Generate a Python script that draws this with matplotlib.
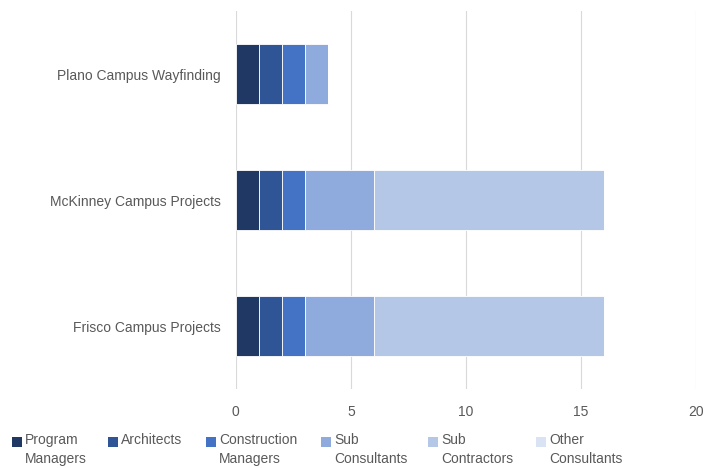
import numpy as np
import matplotlib.pyplot as plt
from matplotlib.patches import Rectangle

projects = ['Frisco Campus Projects', 'McKinney Campus Projects', 'Plano Campus Wayfinding']
roles = ['Program\nManagers', 'Architects', 'Construction\nManagers', 'Sub\nConsultants',
         'Sub\nContractors', 'Other\nConsultants']
program_managers = [1, 1, 1]
architects = [1, 1, 1]
construction_managers = [1, 1, 1]
sub_consultants = [3, 3, 1]
sub_contractors = [10, 10, 0]
other_consultants = [0, 0, 0]
series = [program_managers, architects, construction_managers,
          sub_consultants, sub_contractors, other_consultants]
colors = ['#1F3864', '#2F5597', '#4472C4', '#8FAADC', '#B4C7E7', '#DAE3F3']

plt.rcParams['font.family'] = ['Liberation Sans', 'DejaVu Sans']

W, H = 704, 468
fig = plt.figure(figsize=(W / 100, H / 100), dpi=100)
ax = fig.add_axes([0.335, 0.168, 0.654, 0.808])

ind = np.arange(len(projects))
left = np.zeros(len(projects))
for vals, c in zip(series, colors):
    ax.barh(ind, vals, height=0.476, left=left, color=c, edgecolor='white', linewidth=0.6)
    left += np.array(vals)

ax.set_xlim(0, 20)
ax.set_ylim(-0.5, 2.5)
ax.set_xticks([0, 5, 10, 15, 20])
ax.set_yticks(ind)
ax.set_yticklabels(projects)
for s in ax.spines.values():
    s.set_visible(False)
ax.tick_params(length=0, colors='#595959', labelsize=10)
ax.tick_params(axis='y', pad=11)
ax.tick_params(axis='x', pad=11)
ax.xaxis.grid(True, color='#D9D9D9', linewidth=0.8)
ax.set_axisbelow(True)

# legend laid out like Excel's wrapped legend
square_x = [12, 108, 206, 321, 428, 536]
for x, label, c in zip(square_x, roles, colors):
    fig.patches.append(Rectangle((x / W, 1 - 447 / H), 10 / W, 10 / H,
                                 transform=fig.transFigure, facecolor=c, edgecolor='none'))
    fig.text((x + 13) / W, 1 - 433 / H, label, ha='left', va='top', fontsize=10,
             color='#595959', linespacing=1.42)

fig.savefig('out.png', dpi=100)
